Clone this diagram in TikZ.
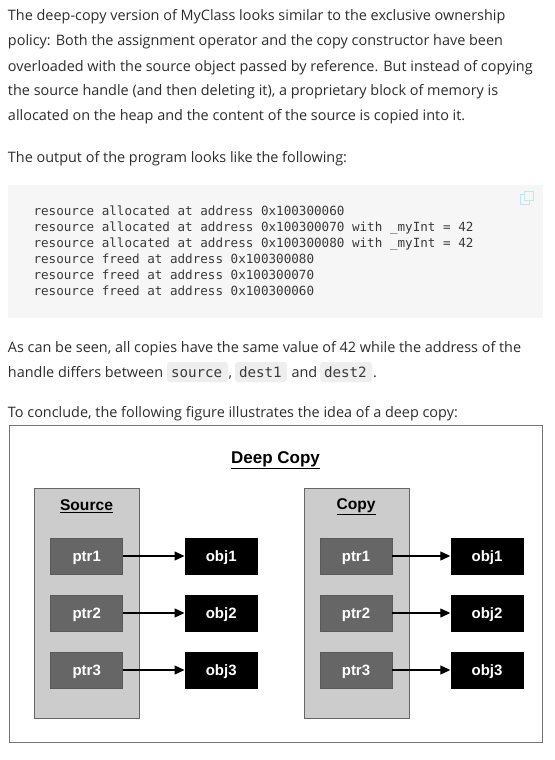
\documentclass[tikz,border=0pt]{standalone}
\usepackage{fontspec}
\setmainfont{Open Sans}
\setmonofont{DejaVu Sans Mono}
\newfontfamily\figfont{Liberation Sans}[Scale=1]
\definecolor{codebg}{HTML}{F6F6F6}
\definecolor{inlinebg}{HTML}{EEEEEE}
\definecolor{bodytext}{HTML}{2D2D2D}
\definecolor{codetext}{HTML}{3A3A3A}
\definecolor{groupfill}{HTML}{CCCCCC}
\definecolor{ptrfill}{HTML}{666666}
\definecolor{iconblue}{HTML}{BFE6F2}
\usetikzlibrary{arrows.meta}
\tikzset{
  x=1pt,y=-1pt,
  bodyline/.style={anchor=base west,inner sep=0pt,outer sep=0pt,text=bodytext,font=\fontsize{14.42}{18}\selectfont},
  codeline/.style={anchor=base west,inner sep=0pt,outer sep=0pt,text=codetext,font=\ttfamily\fontsize{12.6}{15}\selectfont},
  inlinecode/.style={anchor=base west,inner sep=0pt,outer sep=0pt,text=codetext,font=\ttfamily\fontsize{14.2}{17}\selectfont},
  chip/.style={fill=inlinebg,draw=none,rounded corners=3pt},
  groupbox/.style={draw=black!60,fill=groupfill,line width=0.8pt,minimum width=105pt,minimum height=230pt,inner sep=0pt,anchor=north west},
  ptrbox/.style={draw=black!65,fill=ptrfill,text=white,line width=0.8pt,minimum width=72pt,minimum height=36pt,inner sep=0pt,text height=11pt,text depth=0pt,font=\figfont\bfseries\fontsize{15}{16}\selectfont},
  objbox/.style={draw=none,fill=black,text=white,minimum width=73pt,minimum height=37pt,inner sep=0pt,text height=11pt,text depth=0pt,font=\figfont\bfseries\fontsize{15}{16}\selectfont},
  grouptitle/.style={inner sep=0pt,text=black,font=\figfont\bfseries\fontsize{15.6}{17}\selectfont},
  ptrarrow/.style={draw=black,line width=1.2pt,-{Triangle[length=10pt,width=9pt]}},
}
\begin{document}
\begin{tikzpicture}
\useasboundingbox (0,0) rectangle (554,760);
\fill[white] (0,0) rectangle (554,760);
\node[bodyline] (p1) at (8,21) {The deep-copy version of MyClass looks similar to the exclusive ownership};
\node[bodyline] (p2) at (8,46) {policy: Both the assignment operator and the copy constructor have been};
\node[bodyline] (p3) at (8,71) {overloaded with the source object passed by reference. But instead of copying};
\node[bodyline] (p4) at (8,95.5) {the source handle (and then deleting it), a proprietary block of memory is};
\node[bodyline] (p5) at (8,120.5) {allocated on the heap and the content of the source is copied into it.};
\node[bodyline] (p6) at (8,162) {The output of the program looks like the following:};
\fill[codebg] (8,185) rectangle (543,318);
\draw[iconblue,line width=1pt] (520,194) rectangle (529,204);
\draw[iconblue,line width=1pt,fill=codebg] (524,191) rectangle (533,200);
\node[codeline] (c1) at (33.5,215) {resource allocated at address 0x100300060};
\node[codeline] (c2) at (33.5,231) {resource allocated at address 0x100300070 with \_myInt = 42};
\node[codeline] (c3) at (33.5,247) {resource allocated at address 0x100300080 with \_myInt = 42};
\node[codeline] (c4) at (33.5,263) {resource freed at address 0x100300080};
\node[codeline] (c5) at (33.5,279) {resource freed at address 0x100300070};
\node[codeline] (c6) at (33.5,295) {resource freed at address 0x100300060};
\node[bodyline] (q1) at (8,352) {As can be seen, all copies have the same value of 42 while the address of the};
\node[bodyline] (q2) at (8,377) {handle differs between};
\fill[chip] (167,362) rectangle (228,382);
\fill[chip] (235,362) rectangle (287,382);
\fill[chip] (320,362) rectangle (372,382);
\node[inlinecode] (s1) at (171,377) {source};
\node[bodyline] (q3) at (228.5,377) {,};
\node[inlinecode] (s2) at (239,377) {dest1};
\node[bodyline] (q4) at (291.5,377) {and};
\node[inlinecode] (s3) at (324,377) {dest2};
\node[bodyline] (q5) at (373,377) {.};
\node[bodyline] (q6) at (8,417) {To conclude, the following figure illustrates the idea of a deep copy:};
\node[draw=black!55,line width=0.8pt,fill=white,minimum width=533pt,minimum height=317pt,inner sep=0pt,anchor=north west] (frame) at (8.7,425) {};
\node[grouptitle,font=\figfont\bfseries\fontsize{17}{19}\selectfont] (title) at (275.5,460) {\underline{Deep Copy}};
\node[groupbox] (gs) at (34,487.7) {};
\node[groupbox] (gc) at (303.7,487.7) {};
\node[grouptitle] (ts) at (86.5,506.5) {\underline{Source}};
\node[grouptitle] (tc) at (356,506.5) {\underline{Copy}};
\node[ptrbox] (a1) at (86.7,556) {ptr1};
\node[ptrbox] (a2) at (86.7,613) {ptr2};
\node[ptrbox] (a3) at (86.7,670) {ptr3};
\node[objbox] (b1) at (221.2,556) {obj1};
\node[objbox] (b2) at (221.2,613) {obj2};
\node[objbox] (b3) at (221.2,670) {obj3};
\node[ptrbox] (c1b) at (356,556) {ptr1};
\node[ptrbox] (c2b) at (356,613) {ptr2};
\node[ptrbox] (c3b) at (356,670) {ptr3};
\node[objbox] (d1) at (487,556) {obj1};
\node[objbox] (d2) at (487,613) {obj2};
\node[objbox] (d3) at (487,670) {obj3};
\draw[ptrarrow] (a1) -- (b1);
\draw[ptrarrow] (a2) -- (b2);
\draw[ptrarrow] (a3) -- (b3);
\draw[ptrarrow] (c1b) -- (d1);
\draw[ptrarrow] (c2b) -- (d2);
\draw[ptrarrow] (c3b) -- (d3);
\end{tikzpicture}
\end{document}
